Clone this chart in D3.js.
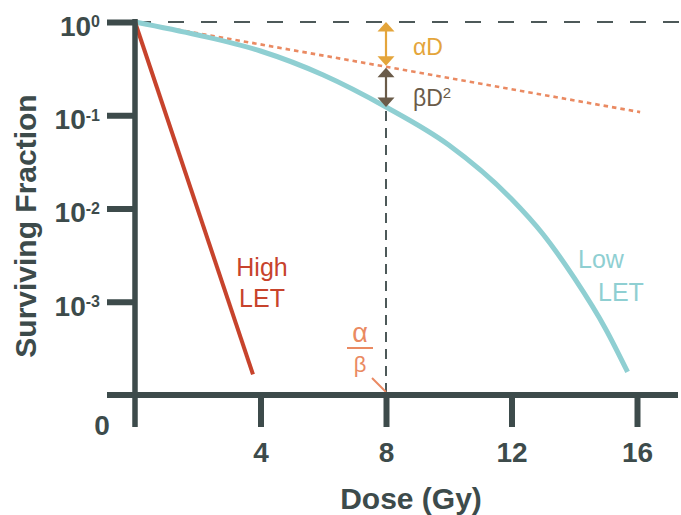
<!DOCTYPE html>
<html>
<head>
<meta charset="utf-8">
<script src="https://cdn.jsdelivr.net/npm/d3@7"></script>
<style>
  html, body { margin: 0; padding: 0; background: #ffffff; }
  svg { display: block; font-family: "Liberation Sans", Arial, Helvetica, sans-serif; }
</style>
</head>
<body>
<svg id="chart" width="681" height="515"></svg>
<script>
// Cell survival curves: low-LET (linear-quadratic shoulder) and high-LET (straight exponential)
const doseLow  = [0, 2, 4, 6, 8, 10, 12, 13, 14, 15, 15.7];
const survLow  = [1, 0.7255, 0.4887, 0.2702, 0.1226, 0.0480, 0.01265, 0.00533, 0.001799, 0.000511, 0.0001766];
const doseHigh = [0, 3.76];
const survHigh = [1, 0.000166];
// Linear (alpha) component alone
const doseAlpha = [0, 16.1];
const survAlpha = [1, 0.108];
// Dose where alpha*D equals beta*D^2
const alphaBetaDose = 8;
const alphaOnlyAtMarker = 0.331;
const lowAtMarker = 0.1226;

const yTicks = [1, 0.1, 0.01, 0.001];
const yTickExp = ["0", "-1", "-2", "-3"];
const xTicks = [4, 8, 12, 16];

const C = {
  axis: "#3d4b4b",
  red: "#c7432c",
  teal: "#8fcfd2",
  orange: "#ea8a62",
  gold: "#e4a53b",
  brown: "#6a5b49",
  guide: "#4d5959"
};

const svg = d3.select("#chart");
const x = d3.scaleLinear().domain([0, 16]).range([135, 637]);
const y = d3.scaleLog().domain([1e-4, 1]).range([395, 22]);

const x0 = x(0), yBase = y(1e-4);

// Horizontal reference at 100% survival
svg.append("line")
  .attr("x1", x0).attr("x2", 681)
  .attr("y1", y(1)).attr("y2", y(1))
  .attr("stroke", C.guide).attr("stroke-width", 2.2)
  .attr("stroke-dasharray", "16 17");

// Vertical guide at the alpha/beta dose
svg.append("line")
  .attr("x1", x(alphaBetaDose)).attr("x2", x(alphaBetaDose))
  .attr("y1", y(lowAtMarker) + 4).attr("y2", yBase - 3)
  .attr("stroke", C.guide).attr("stroke-width", 2)
  .attr("stroke-dasharray", "10 7");

const line = d3.line().x(d => x(d[0])).y(d => y(d[1]));

// Alpha-only component (dotted)
svg.append("path")
  .attr("d", line(d3.zip(doseAlpha, survAlpha)))
  .attr("fill", "none").attr("stroke", C.orange)
  .attr("stroke-width", 2.6).attr("stroke-dasharray", "4.5 4");

// Low-LET curve
svg.append("path")
  .attr("d", d3.line().x(d => x(d[0])).y(d => y(d[1])).curve(d3.curveMonotoneX)(d3.zip(doseLow, survLow)))
  .attr("fill", "none").attr("stroke", C.teal).attr("stroke-width", 5);

// High-LET curve
svg.append("path")
  .attr("d", line(d3.zip(doseHigh, survHigh)))
  .attr("fill", "none").attr("stroke", C.red).attr("stroke-width", 4);

// Double-headed arrows for alpha*D and beta*D^2
function arrow(yTop, yBot, color) {
  const ax = x(alphaBetaDose), hw = 8.5, hh = 9.5;
  const g = svg.append("g");
  g.append("line").attr("x1", ax).attr("x2", ax)
    .attr("y1", yTop + hh - 1).attr("y2", yBot - hh + 1)
    .attr("stroke", color).attr("stroke-width", 2.2);
  g.append("path")
    .attr("d", `M${ax},${yTop}L${ax + hw},${yTop + hh}L${ax - hw},${yTop + hh}Z`)
    .attr("fill", color);
  g.append("path")
    .attr("d", `M${ax},${yBot}L${ax + hw},${yBot - hh}L${ax - hw},${yBot - hh}Z`)
    .attr("fill", color);
}
arrow(y(1), y(alphaOnlyAtMarker) - 1, C.gold);
arrow(y(alphaOnlyAtMarker) + 1, y(lowAtMarker), C.brown);

svg.append("text")
  .attr("x", 413).attr("y", 55)
  .attr("fill", C.gold).style("font-size", "23px")
  .text("αD");
const bd = svg.append("text")
  .attr("x", 413).attr("y", 106)
  .attr("fill", C.brown).style("font-size", "23px")
  .text("βD");
bd.append("tspan").attr("dy", -8).style("font-size", "15px").text("2");

// Curve labels
svg.append("text").attr("x", 262).attr("y", 276).attr("text-anchor", "middle")
  .attr("fill", C.red).style("font-size", "25px").text("High");
svg.append("text").attr("x", 262).attr("y", 307).attr("text-anchor", "middle")
  .attr("fill", C.red).style("font-size", "25px").text("LET");
svg.append("text").attr("x", 578).attr("y", 268)
  .attr("fill", C.teal).style("font-size", "25px").text("Low");
svg.append("text").attr("x", 598).attr("y", 301)
  .attr("fill", C.teal).style("font-size", "25px").text("LET");

// alpha/beta fraction marker
const fx = 360;
svg.append("text").attr("x", fx).attr("y", 342).attr("text-anchor", "middle")
  .attr("fill", C.orange).style("font-size", "27px").text("α");
svg.append("line").attr("x1", fx - 13).attr("x2", fx + 13)
  .attr("y1", 348).attr("y2", 348)
  .attr("stroke", C.orange).attr("stroke-width", 2);
svg.append("text").attr("x", fx).attr("y", 372).attr("text-anchor", "middle")
  .attr("fill", C.orange).style("font-size", "22px").text("β");
svg.append("line").attr("x1", 372).attr("y1", 378)
  .attr("x2", x(alphaBetaDose)).attr("y2", yBase - 3)
  .attr("stroke", C.orange).attr("stroke-width", 2);

// Axes
const yAxis = d3.axisLeft(y).tickValues(yTicks).tickSize(28).tickPadding(7).tickFormat(() => "10");
const gy = svg.append("g").attr("transform", `translate(${x0},0)`).call(yAxis);
const xAxis = d3.axisBottom(x).tickValues(xTicks).tickSize(32).tickPadding(15).tickFormat(d3.format("d"));
const gx = svg.append("g").attr("transform", `translate(0,${yBase})`).call(xAxis);

[gx, gy].forEach(g => {
  g.select(".domain").remove();
  g.selectAll(".tick line").attr("stroke", C.axis).attr("stroke-width", 6);
  g.selectAll(".tick text").attr("fill", C.axis).style("font-weight", "bold");
});
gx.selectAll(".tick text").style("font-size", "28px");
gy.selectAll(".tick text").style("font-size", "28px").attr("dy", "0.48em")
  .each(function(d, i) {
    d3.select(this).append("tspan").attr("dy", -8.5).style("font-size", "16px").text(yTickExp[i]);
  });

// Axis lines, crossing at the origin
svg.append("line").attr("x1", x0).attr("x2", x0)
  .attr("y1", y(1) - 3).attr("y2", yBase + 32)
  .attr("stroke", C.axis).attr("stroke-width", 5.5);
svg.append("line").attr("x1", x0 - 28).attr("x2", 678)
  .attr("y1", yBase).attr("y2", yBase)
  .attr("stroke", C.axis).attr("stroke-width", 6);

svg.append("text").attr("x", x0 - 33).attr("y", 435).attr("text-anchor", "middle")
  .attr("fill", C.axis).style("font-size", "28px").style("font-weight", "bold").text("0");

// Axis titles
svg.append("text").attr("x", 411).attr("y", 509).attr("text-anchor", "middle")
  .attr("fill", C.axis).style("font-size", "30px").style("font-weight", "bold").text("Dose (Gy)");
svg.append("text").attr("transform", "translate(36,226) rotate(-90)").attr("text-anchor", "middle")
  .attr("fill", C.axis).style("font-size", "30px").style("font-weight", "bold").text("Surviving Fraction");
</script>
</body>
</html>
